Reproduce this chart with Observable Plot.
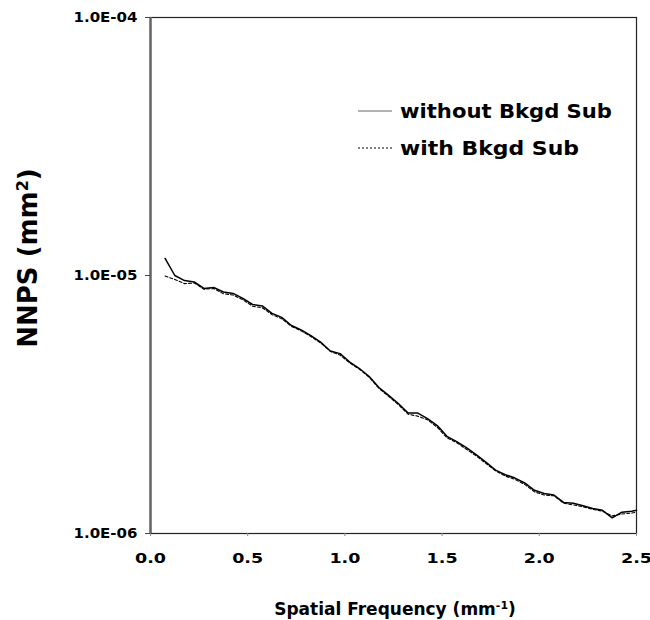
<!DOCTYPE html>
<html><head><meta charset="utf-8">
<script src="https://cdn.jsdelivr.net/npm/d3@7"></script>
<script src="https://cdn.jsdelivr.net/npm/@observablehq/plot@0.6"></script>
<style>body{margin:0;background:#fff}</style>
</head><body><div id="chart"></div><script>
// Spatial frequency (mm^-1)
const freq = [0.075,0.125,0.175,0.225,0.275,0.325,0.375,0.425,0.475,0.525,
  0.575,0.625,0.675,0.725,0.775,0.825,0.875,0.925,0.975,1.025,
  1.075,1.125,1.175,1.225,1.275,1.325,1.375,1.425,1.475,1.525,
  1.575,1.625,1.675,1.725,1.775,1.825,1.875,1.925,1.975,2.025,
  2.075,2.125,2.175,2.225,2.275,2.325,2.375,2.425,2.475,2.5];
// NNPS without background subtraction (mm^2)
const nnpsWithout = [1.164e-5,1.000e-5,9.56e-6,9.44e-6,8.91e-6,8.99e-6,8.63e-6,8.52e-6,8.15e-6,7.72e-6,
  7.62e-6,7.13e-6,6.88e-6,6.40e-6,6.15e-6,5.85e-6,5.52e-6,5.10e-6,4.98e-6,4.62e-6,
  4.36e-6,4.06e-6,3.68e-6,3.43e-6,3.19e-6,2.93e-6,2.93e-6,2.79e-6,2.62e-6,2.38e-6,
  2.27e-6,2.15e-6,2.02e-6,1.89e-6,1.76e-6,1.69e-6,1.64e-6,1.57e-6,1.47e-6,1.43e-6,
  1.41e-6,1.32e-6,1.31e-6,1.28e-6,1.25e-6,1.23e-6,1.15e-6,1.21e-6,1.22e-6,1.23e-6];
// NNPS with background subtraction (mm^2)
const nnpsWith = [9.95e-6,9.65e-6,9.30e-6,9.35e-6,8.85e-6,8.90e-6,8.50e-6,8.40e-6,8.05e-6,7.60e-6,
  7.50e-6,7.05e-6,6.80e-6,6.35e-6,6.10e-6,5.80e-6,5.48e-6,5.08e-6,4.92e-6,4.58e-6,
  4.33e-6,4.03e-6,3.65e-6,3.40e-6,3.16e-6,2.90e-6,2.85e-6,2.76e-6,2.58e-6,2.35e-6,
  2.25e-6,2.12e-6,2.00e-6,1.87e-6,1.75e-6,1.67e-6,1.62e-6,1.55e-6,1.45e-6,1.41e-6,
  1.40e-6,1.31e-6,1.29e-6,1.27e-6,1.24e-6,1.22e-6,1.17e-6,1.19e-6,1.20e-6,1.21e-6];
const xTicks = [0, 0.5, 1.0, 1.5, 2.0, 2.5];
const xTickLabels = ["0.0","0.5","1.0","1.5","2.0","2.5"];
const yTicks = [1e-6, 1e-5, 1e-4];
const yTickLabels = ["1.0E-06","1.0E-05","1.0E-04"];
const seriesNames = ["without Bkgd Sub", "with Bkgd Sub"];

const idx = d3.range(freq.length);

const plot = Plot.plot({
  width: 650, height: 620,
  marginLeft: 150, marginRight: 14, marginTop: 17, marginBottom: 87,
  style: {fontFamily: "'DejaVu Sans', Verdana, sans-serif", fontWeight: "bold", fontSize: "14px", color: "#000", background: "#fff"},
  x: {domain: [0, 2.5]},
  y: {type: "log", domain: [1e-6, 1e-4]},
  marks: [
    Plot.frame({stroke: "#222", strokeWidth: 1.2}),
    Plot.ruleX([0], {stroke: "#666", strokeWidth: 2.5}),
    Plot.axisX({ticks: xTicks, tickFormat: d => xTickLabels[xTicks.indexOf(d)], tickSize: 3, tickPadding: 17, stroke: "#888", label: null, fill: "#000", fontSize: 14}),
    Plot.axisY({ticks: yTicks, tickFormat: d => yTickLabels[yTicks.indexOf(d)], tickSize: 5, tickPadding: 8, label: null, stroke: "#444", fontSize: 14}),
    Plot.line(idx, {x: i => freq[i], y: i => nnpsWith[i], stroke: "#000", strokeWidth: 1.1, strokeDasharray: "3,2"}),
    Plot.line(idx, {x: i => freq[i], y: i => nnpsWithout[i], stroke: "#000", strokeWidth: 1.5})
  ]
});

const svg = d3.select(plot);
// widen tick labels to match the reference's wide bold face
svg.selectAll('g[aria-label="y-axis tick label"] text').attr("textLength", 64).attr("lengthAdjust", "spacingAndGlyphs");
svg.selectAll('g[aria-label="x-axis tick label"] text').attr("textLength", 31).attr("lengthAdjust", "spacingAndGlyphs");

// Legend
const leg = svg.append("g").attr("font-size", 19).attr("font-weight", "bold").attr("text-anchor", "start");
leg.append("line").attr("x1", 358).attr("x2", 392).attr("y1", 111).attr("y2", 111).attr("stroke", "#999").attr("stroke-width", 1.5);
leg.append("text").attr("x", 400).attr("y", 111).attr("dy", "0.36em").attr("textLength", 212).attr("lengthAdjust", "spacingAndGlyphs").text(seriesNames[0]);
leg.append("line").attr("x1", 358).attr("x2", 392).attr("y1", 148).attr("y2", 148).attr("stroke", "#000").attr("stroke-width", 1).attr("stroke-dasharray", "2,2");
leg.append("text").attr("x", 400).attr("y", 148).attr("dy", "0.36em").attr("textLength", 179).attr("lengthAdjust", "spacingAndGlyphs").text(seriesNames[1]);

// Axis titles
const yl = svg.append("text").attr("transform", "translate(37,258) rotate(-90)").attr("text-anchor", "middle").attr("font-size", 26).attr("font-weight", "bold");
yl.append("tspan").text("NNPS (mm");
yl.append("tspan").attr("baseline-shift", "super").attr("font-size", 16).text("2");
yl.append("tspan").text(")");
const xl = svg.append("text").attr("x", 395).attr("y", 615).attr("text-anchor", "middle").attr("font-size", 17).attr("font-weight", "bold");
xl.append("tspan").text("Spatial Frequency (mm");
xl.append("tspan").attr("baseline-shift", "super").attr("font-size", 11).text("-1");
xl.append("tspan").text(")");

document.getElementById("chart").appendChild(plot);
</script></body></html>
